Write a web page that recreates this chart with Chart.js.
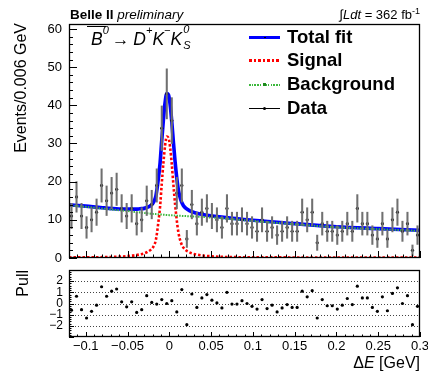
<!DOCTYPE html>
<html>
<head>
<meta charset="utf-8">
<script src="https://cdn.jsdelivr.net/npm/chart.js@4.4.0/dist/chart.umd.min.js"></script>
<style>
  body { margin: 0; background: #fff; }
  #wrap { position: relative; width: 428px; height: 373px; overflow: hidden;
          font-family: "Liberation Sans", Arial, sans-serif; color: #000; background: #fff; }
  canvas { position: absolute; left: 0; }
  .txt { position: absolute; white-space: nowrap; }
  .sp { font-size: 11px; position: relative; top: -11px; }
  .ss { position: relative; display: inline-block; width: 8px; }
  .ss span { position: absolute; left: 1px; font-size: 11px; line-height: 11px; }
  .leg { position: absolute; left: 287px; font-size: 18.5px; font-weight: bold; line-height: 20px; }
  .sample { position: absolute; left: 249px; width: 31px; }
</style>
</head>
<body>
<div id="wrap">
  <canvas id="main" width="428" height="262" style="top:0"></canvas>
  <canvas id="pull" width="428" height="111" style="top:262px"></canvas>

  <div class="txt" style="left:70px; top:8px; font-size:13.5px; line-height:14px;"><b>Belle II</b> <i>preliminary</i></div>
  <div class="txt" style="right:8px; top:8px; font-size:13px; line-height:14px;">&#8747;<i>Ldt</i> = 362 fb<span style="font-size:9px; position:relative; top:-5px;">-1</span></div>

  <div class="txt" style="left:87px; top:26px; width:19px; height:1.4px; background:#000;"></div>
  <div class="txt" style="left:91px; top:27px; font-size:17.5px; line-height:24px; font-style:italic;">B<span class="sp">0</span><span style="font-style:normal; margin:0 4px 0 3px;">&#8594;</span>D<span class="sp">+</span>K<span class="sp">&#8722;</span>K<span class="ss"><span style="top:-21px">0</span><span style="top:-5px">S</span></span></div>

  <div class="sample" style="top:35.5px; height:3.5px; background:#0000ff;"></div>
  <div class="sample" style="left:263.5px; width:2px; top:36.5px; height:1.5px; background:#000;"></div>
  <div class="sample" style="top:59px; height:2.5px; background:repeating-linear-gradient(to right, #ff0000 0 2.5px, transparent 2.5px 4.5px);"></div>
  <div class="sample" style="top:83.5px; height:2px; background:repeating-linear-gradient(to right, #3cb83c 0 1.5px, transparent 1.5px 2.7px);"></div>
  <div class="sample" style="left:263px; width:3px; top:83px; height:3px; background:#1d8a1d;"></div>
  <div class="sample" style="top:108px; height:1px; background:#000;"></div>
  <div class="sample" style="left:263px; width:3px; top:107px; height:3px; border-radius:50%; background:#000;"></div>
  <div class="leg" style="top:27px;">Total fit</div>
  <div class="leg" style="top:50px;">Signal</div>
  <div class="leg" style="top:74px;">Background</div>
  <div class="leg" style="top:98px;">Data</div>

  <div class="txt" style="left:-59px; top:93px; width:160px; height:20px; line-height:20px; font-size:16px; text-align:right; transform:rotate(-90deg);">Events/0.006 GeV</div>
  <div class="txt" style="left:-7px; top:290px; width:60px; height:20px; line-height:20px; font-size:16px; text-align:right; transform:rotate(-90deg);">Pull</div>
  <div class="txt" style="right:8px; top:354px; font-size:16px; line-height:18px;">&#916;<i>E</i> [GeV]</div>
</div>

<script>
// binning of the histogram
const binLow = -0.12;
const binWidth = 0.006;

// events per bin
const counts = [11, 16, 11, 8, 10, 12, 19, 15, 17, 18,
                13, 11, 13, 9, 10, 15, 14, 19, 34, 43,
                36, 17, 19, 5, 14, 9, 12, 13, 11, 10,
                8, 13, 9, 9, 10, 9, 8, 7, 10, 7,
                8, 6, 7, 8, 7, 7, 12, 10, 12, 4,
                9, 7, 7, 6, 7, 9, 7, 13, 9, 9,
                6, 5, 9, 5, 10, 12, 7, 9, 2, 6];

// pull per bin
const pulls = [-0.6, 0.65, -0.55, -1.3, -0.7, -0.15, 1.5, 0.65, 1.1, 1.3,
               0.15, -0.3, 0.15, -0.8, -0.55, 0.7, 0.1, -0.05, 0.35, 0,
               0.25, -0.75, 1.25, -1.9, 0.85, -0.35, 0.5, 0.8, 0.3, 0.05,
               -0.4, 1.0, -0.05, -0.05, 0.25, 0, -0.25, -0.5, 0.35, -0.45,
               -0.15, -0.75, -0.4, -0.1, -0.35, -0.35, 1.1, 0.6, 1.15, -1.3,
               0.35, -0.2, -0.2, -0.5, -0.15, 0.45, -0.1, 1.55, 0.5, 0.5,
               -0.35, -0.7, 0.6, -0.65, 0.9, 1.4, 0, 0.7, -1.9, -0.25];

// fit curves sampled along dE
const fitX = [-0.12, -0.1, -0.08, -0.06, -0.05, -0.04, -0.035, -0.03, -0.026, -0.022,
              -0.019, -0.016, -0.013, -0.011, -0.009, -0.007, -0.005, -0.003, -0.001, 0.001,
              0.003, 0.005, 0.007, 0.009, 0.011, 0.014, 0.017, 0.02, 0.024, 0.028,
              0.034, 0.04, 0.05, 0.06, 0.08, 0.1, 0.15, 0.2, 0.25, 0.3];
const fitBkg = [13.8, 13.4, 12.95, 12.5, 12.3, 12.05, 11.95, 11.8, 11.7, 11.6,
                11.55, 11.5, 11.45, 11.4, 11.38, 11.35, 11.3, 11.28, 11.25, 11.2,
                11.18, 11.15, 11.12, 11.1, 11.08, 11.05, 11.0, 10.98, 10.93, 10.9,
                10.82, 10.75, 10.6, 10.45, 10.1, 9.7, 8.85, 8.05, 7.55, 7.1];
const fitSig = [0.15, 0.18, 0.22, 0.35, 0.5, 0.75, 0.95, 1.2, 1.6, 2.2,
                3.0, 4.8, 9.5, 13.5, 19.5, 25, 29.5, 31.8, 31.5, 29,
                24.5, 19, 14, 9.8, 6.6, 4.0, 2.7, 2.0, 1.5, 1.15,
                0.85, 0.65, 0.45, 0.33, 0.22, 0.18, 0.15, 0.15, 0.15, 0.15];
const fitTotal = [13.95, 13.58, 13.17, 12.85, 12.8, 12.8, 12.9, 13.0, 13.3, 13.8,
                  14.55, 16.3, 20.95, 24.9, 30.88, 36.35, 40.8, 43.08, 42.75, 40.2,
                  35.68, 30.15, 25.12, 20.9, 17.68, 15.05, 13.7, 12.98, 12.43, 12.05,
                  11.67, 11.4, 11.05, 10.78, 10.32, 9.88, 9.0, 8.2, 7.7, 7.25];

// axis ticks
const xTicks = [-0.1, -0.05, 0, 0.05, 0.1, 0.15, 0.2, 0.25, 0.3];
const yTicks = [0, 10, 20, 30, 40, 50, 60];
const pullTicks = [-2, -1, 0, 1, 2];

const binCenters = counts.map((_, i) => +(binLow + (i + 0.5) * binWidth).toFixed(4));
const countErr = counts.map(n => Math.sqrt(n));
const pts = (xs, ys) => xs.map((x, i) => ({ x: x, y: ys[i] }));

const FONT = "'Liberation Sans', Arial, sans-serif";

// ROOT-like frame with inward ticks
const rootFrame = {
  id: 'rootFrame',
  beforeDatasetsDraw(chart, args, opts) {
    if (!opts.refLines) return;
    const { ctx, chartArea: a, scales } = chart;
    ctx.save();
    ctx.strokeStyle = '#444';
    ctx.lineWidth = 1;
    ctx.setLineDash([1, 2]);
    ctx.beginPath();
    opts.refLines.forEach(v => {
      const p = Math.round(scales.y.getPixelForValue(v)) + 0.5;
      ctx.moveTo(a.left, p);
      ctx.lineTo(a.right, p);
    });
    ctx.stroke();
    ctx.restore();
  },
  afterDatasetsDraw(chart, args, opts) {
    const { ctx, chartArea: a, scales } = chart;
    ctx.save();
    ctx.strokeStyle = '#000';
    ctx.lineWidth = 1;
    ctx.beginPath();
    const marks = (axis, step, len) => {
      const s = scales[axis];
      const n0 = Math.ceil(s.min / step - 1e-6), n1 = Math.floor(s.max / step + 1e-6);
      for (let n = n0; n <= n1; n++) {
        const p = Math.round(s.getPixelForValue(n * step)) + 0.5;
        if (axis === 'x') { ctx.moveTo(p, a.bottom); ctx.lineTo(p, a.bottom - len); }
        else { ctx.moveTo(a.left, p); ctx.lineTo(a.left + len, p); }
      }
    };
    marks('x', opts.xMajor, opts.xMajorLen);
    marks('x', opts.xMinor, opts.xMinorLen);
    marks('y', opts.yMajor, opts.yMajorLen);
    marks('y', opts.yMinor, opts.yMinorLen);
    ctx.stroke();
    ctx.lineWidth = 1.3;
    ctx.strokeRect(a.left + 0.5, a.top + 0.5, a.width - 1, a.height - 1);
    ctx.restore();
  }
};

const fixedWidth = w => s => { s.width = w; s.paddingTop = 0; s.paddingBottom = 0; };

new Chart(document.getElementById('main'), {
  type: 'scatter',
  data: {
    datasets: [
      {
        type: 'bar',
        label: 'Data errors',
        data: binCenters.map((x, i) => ({ x: x, y: [counts[i] - countErr[i], counts[i] + countErr[i]] })),
        backgroundColor: '#707070',
        barThickness: 1.4,
        grouped: false,
        order: 0
      },
      {
        label: 'Data',
        data: pts(binCenters, counts),
        pointRadius: 1.6,
        pointBackgroundColor: '#000',
        pointBorderWidth: 0,
        order: 0
      },
      {
        type: 'line',
        label: 'Background',
        data: pts(fitX, fitBkg),
        borderColor: '#3cb83c',
        borderWidth: 2,
        borderDash: [1.5, 1.2],
        pointRadius: 0,
        cubicInterpolationMode: 'monotone',
        order: 1
      },
      {
        type: 'line',
        label: 'Signal',
        data: pts(fitX, fitSig),
        borderColor: '#ff0000',
        borderWidth: 2.6,
        borderDash: [2.5, 2],
        pointRadius: 0,
        cubicInterpolationMode: 'monotone',
        order: 2
      },
      {
        type: 'line',
        label: 'Total fit',
        data: pts(fitX, fitTotal),
        borderColor: '#0000ff',
        borderWidth: 3.6,
        pointRadius: 0,
        cubicInterpolationMode: 'monotone',
        order: 3
      }
    ]
  },
  options: {
    responsive: false,
    animation: false,
    devicePixelRatio: 1,
    events: [],
    layout: { padding: { top: 24, right: 8, bottom: 4, left: 0 } },
    plugins: {
      legend: { display: false },
      tooltip: { enabled: false },
      rootFrame: { xMajor: 0.05, xMajorLen: 7, xMinor: 0.01, xMinorLen: 3.5,
                   yMajor: 10, yMajorLen: 8, yMinor: 2, yMinorLen: 4 }
    },
    scales: {
      x: { type: 'linear', min: -0.12, max: 0.3, offset: false, display: false },
      y: {
        type: 'linear', min: 0, max: 61.3,
        afterBuildTicks: s => { s.ticks = yTicks.map(v => ({ value: v })); },
        afterFit: fixedWidth(69),
        grid: { display: false, drawTicks: false },
        border: { display: false },
        ticks: { color: '#000', padding: 7, autoSkip: false, font: { family: FONT, size: 13 } }
      }
    }
  },
  plugins: [rootFrame]
});

new Chart(document.getElementById('pull'), {
  type: 'scatter',
  data: {
    datasets: [{
      label: 'Pull',
      data: pts(binCenters, pulls),
      pointRadius: 1.6,
      pointBackgroundColor: '#000',
      pointBorderWidth: 0
    }]
  },
  options: {
    responsive: false,
    animation: false,
    devicePixelRatio: 1,
    events: [],
    layout: { padding: { top: 8, right: 8, bottom: 0, left: 0 } },
    plugins: {
      legend: { display: false },
      tooltip: { enabled: false },
      rootFrame: { refLines: pullTicks,
                   xMajor: 0.05, xMajorLen: 5, xMinor: 0.01, xMinorLen: 2.5,
                   yMajor: 1, yMajorLen: 5, yMinor: 0.2, yMinorLen: 2.5 }
    },
    scales: {
      x: {
        type: 'linear', min: -0.12, max: 0.3,
        afterBuildTicks: s => { s.ticks = xTicks.map(v => ({ value: v })); },
        afterFit: s => { s.height = 36; s.paddingLeft = 0; s.paddingRight = 0; },
        grid: { display: false, drawTicks: false },
        border: { display: false },
        ticks: {
          color: '#000', padding: 2, autoSkip: false, maxRotation: 0,
          font: { family: FONT, size: 13 },
          callback: v => { const r = Math.round(v * 100) / 100; return (r < 0 ? '\u2212' : '') + String(Math.abs(r)); }
        }
      },
      y: {
        type: 'linear', min: -3, max: 3,
        afterBuildTicks: s => { s.ticks = pullTicks.map(v => ({ value: v })); },
        afterFit: fixedWidth(69),
        grid: { display: false, drawTicks: false },
        border: { display: false },
        ticks: {
          color: '#000', padding: 6, autoSkip: false,
          font: { family: FONT, size: 12 },
          callback: v => (v < 0 ? '\u2212' : '') + Math.abs(v)
        }
      }
    }
  },
  plugins: [rootFrame]
});
</script>
</body>
</html>
